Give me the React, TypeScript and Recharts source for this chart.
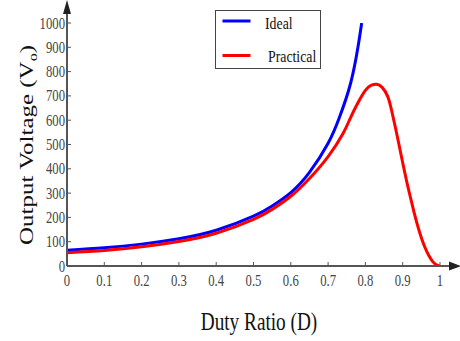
import React from "react";
import { LineChart, Line, XAxis, YAxis, Legend } from "recharts";

// values
const idealDuty = [0, 0.1, 0.2, 0.3, 0.4, 0.5, 0.55, 0.6, 0.65, 0.7, 0.73, 0.76, 0.78, 0.79];
const idealVolts = [65, 75, 90, 112, 147, 205, 247, 302, 385, 505, 610, 750, 900, 1000];

const practicalDuty = [
    0, 0.1, 0.2, 0.3, 0.4, 0.5, 0.55, 0.6, 0.65, 0.7, 0.74, 0.76, 0.78, 0.8, 0.815, 0.83,
    0.845, 0.86, 0.87, 0.88, 0.89, 0.9, 0.91, 0.92, 0.93, 0.94, 0.95, 0.96, 0.97, 0.98, 0.99, 1,
];
const practicalVolts = [
    55, 64, 79, 101, 135, 192, 233, 287, 360, 450, 545, 610, 672, 723, 743, 748,
    735, 697, 642, 573, 500, 425, 353, 287, 224, 166, 116, 75, 43, 19, 5, 0,
];

const dutyTicks = [0, 0.1, 0.2, 0.3, 0.4, 0.5, 0.6, 0.7, 0.8, 0.9, 1];
const voltTicks = [0, 100, 200, 300, 400, 500, 600, 700, 800, 900, 1000];

type Row = { duty: number; volts: number };

const toRows = (d: number[], v: number[]): Row[] =>
    d.map((x, i) => ({ duty: x, volts: v[i] }));

const idealRows = toRows(idealDuty, idealVolts);
const practicalRows = toRows(practicalDuty, practicalVolts);

const SERIF = "'Liberation Serif', 'Times New Roman', serif";
const SQUISH = 0.77; // the reference is horizontally compressed

const XTick = (props: any) => {
    const { x, y, payload } = props;
    return (
        <g>
            <line x1={x} x2={x} y1={y} y2={y - 4} stroke="#555" strokeWidth={1} />
            <text
                transform={`translate(${x},${y + 20}) scale(${SQUISH},1)`}
                textAnchor="middle"
                fontFamily={SERIF}
                fontSize={16.5}
                fill="#444"
            >
                {payload.value}
            </text>
        </g>
    );
};

const YTick = (props: any) => {
    const { x, y, payload } = props;
    return (
        <g>
            <line x1={x} x2={x + 4} y1={y} y2={y} stroke="#555" strokeWidth={1} />
            <text
                transform={`translate(${x - 2},${y + 5.5}) scale(${SQUISH},1)`}
                textAnchor="end"
                fontFamily={SERIF}
                fontSize={16.5}
                fill="#444"
            >
                {payload.value}
            </text>
        </g>
    );
};

const LegendBox = ({ payload }: any) => {
    const textX = [50, 53];
    return (
        <svg width={106} height={59} style={{ display: "block" }}>
            <rect x={0.5} y={0.5} width={105} height={58} fill="#fff" stroke="#444" />
            {(payload ?? []).map((p: any, i: number) => (
                <g key={p.value}>
                    <line
                        x1={7.5}
                        x2={35.5}
                        y1={11 + i * 34.5}
                        y2={11 + i * 34.5}
                        stroke={p.color}
                        strokeWidth={3}
                    />
                    <text
                        transform={`translate(${textX[i]},${18.5 + i * 33}) scale(${SQUISH + 0.02},1)`}
                        fontFamily={SERIF}
                        fontSize={17.5}
                        fill="#111"
                    >
                        {p.value}
                    </text>
                </g>
            ))}
        </svg>
    );
};

const App: React.FC = () => {
    return (
        <div style={{ position: "absolute", left: 0, top: 0, width: 460, height: 341, background: "#fff" }}>
            <LineChart width={460} height={341} margin={{ top: 23, right: 20, left: 0, bottom: 0 }}>
                <XAxis
                    type="number"
                    dataKey="duty"
                    domain={[0, 1]}
                    ticks={dutyTicks}
                    height={75}
                    tickSize={0}
                    tickMargin={0}
                    tickLine={false}
                    axisLine={{ stroke: "#555", strokeWidth: 2 }}
                    tick={XTick}
                    allowDataOverflow
                />
                <YAxis
                    type="number"
                    dataKey="volts"
                    domain={[0, 1000]}
                    ticks={voltTicks}
                    width={67}
                    tickSize={0}
                    tickMargin={0}
                    tickLine={false}
                    axisLine={{ stroke: "#555", strokeWidth: 2 }}
                    tick={YTick}
                    allowDataOverflow
                />
                <Legend
                    layout="horizontal"
                    verticalAlign="middle"
                    content={LegendBox}
                    wrapperStyle={{ left: 215, top: 10, width: 106, height: 59 }}
                />
                <Line
                    data={idealRows}
                    dataKey="volts"
                    name="Ideal"
                    type="natural"
                    stroke="#0000ff"
                    strokeWidth={3}
                    dot={false}
                    isAnimationActive={false}
                />
                <Line
                    data={practicalRows}
                    dataKey="volts"
                    name="Practical"
                    type="natural"
                    stroke="#ff0000"
                    strokeWidth={3}
                    dot={false}
                    isAnimationActive={false}
                />
            </LineChart>

            {/* axis arrows and titles */}
            <svg
                width={460}
                height={341}
                style={{ position: "absolute", left: 0, top: 0, pointerEvents: "none" }}
            >
                <line x1={67} x2={67} y1={24} y2={10} stroke="#555" strokeWidth={2} />
                <polygon points="67,0 63,14 71,14" fill="#222" />
                <line x1={439} x2={452} y1={266} y2={266} stroke="#555" strokeWidth={2} />
                <polygon points="461,266 449,261.5 449,270.5" fill="#222" />

                <text
                    transform={`translate(259,330) scale(${SQUISH},1)`}
                    textAnchor="middle"
                    fontFamily={SERIF}
                    fontSize={25}
                    fill="#111"
                >
                    Duty Ratio (D)
                </text>
                <text
                    transform={`translate(33,145) scale(${SQUISH},1) rotate(-90)`}
                    textAnchor="middle"
                    fontFamily={SERIF}
                    fontSize={25}
                    fill="#111"
                >
                    Output Voltage (V
                    <tspan fontSize={16} dy={5}>o</tspan>
                    <tspan dy={-5}>)</tspan>
                </text>
            </svg>
        </div>
    );
};

export default App;
